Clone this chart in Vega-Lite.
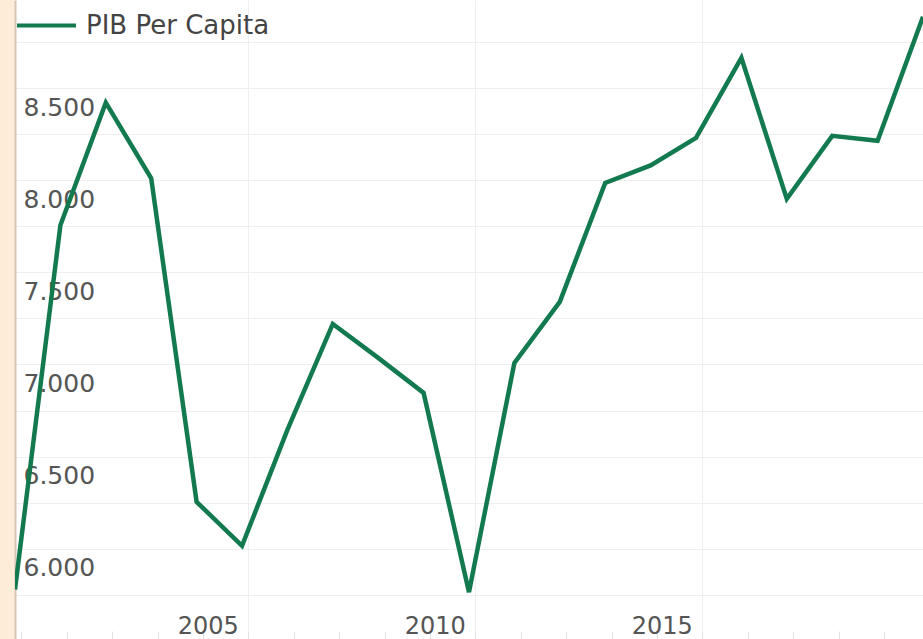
{
  "$schema": "https://vega.github.io/schema/vega-lite/v6.json",
  "width": 908,
  "height": 639,
  "autosize": {"type": "none"},
  "padding": {"left": 15, "top": 0, "right": 0, "bottom": 0},
  "background": "#fdecd8",
  "config": {
    "view": {"fill": "white", "stroke": null},
    "font": "DejaVu Sans"
  },
  "data": {
    "values": [
      {"year": 2000, "valor": 6030, "serie": "PIB Per Capita"},
      {"year": 2001, "valor": 8005, "serie": "PIB Per Capita"},
      {"year": 2002, "valor": 8670, "serie": "PIB Per Capita"},
      {"year": 2003, "valor": 8260, "serie": "PIB Per Capita"},
      {"year": 2004, "valor": 6505, "serie": "PIB Per Capita"},
      {"year": 2005, "valor": 6266, "serie": "PIB Per Capita"},
      {"year": 2006, "valor": 6895, "serie": "PIB Per Capita"},
      {"year": 2007, "valor": 7470, "serie": "PIB Per Capita"},
      {"year": 2008, "valor": 7286, "serie": "PIB Per Capita"},
      {"year": 2009, "valor": 7096, "serie": "PIB Per Capita"},
      {"year": 2010, "valor": 6015, "serie": "PIB Per Capita"},
      {"year": 2011, "valor": 7259, "serie": "PIB Per Capita"},
      {"year": 2012, "valor": 7590, "serie": "PIB Per Capita"},
      {"year": 2013, "valor": 8235, "serie": "PIB Per Capita"},
      {"year": 2014, "valor": 8330, "serie": "PIB Per Capita"},
      {"year": 2015, "valor": 8479, "serie": "PIB Per Capita"},
      {"year": 2016, "valor": 8913, "serie": "PIB Per Capita"},
      {"year": 2017, "valor": 8148, "serie": "PIB Per Capita"},
      {"year": 2018, "valor": 8490, "serie": "PIB Per Capita"},
      {"year": 2019, "valor": 8463, "serie": "PIB Per Capita"},
      {"year": 2020, "valor": 9136, "serie": "PIB Per Capita"}
    ]
  },
  "mark": {"type": "line", "strokeWidth": 4.5, "clip": true, "strokeJoin": "miter"},
  "encoding": {
    "x": {
      "field": "year",
      "type": "quantitative",
      "scale": {"domain": [2000, 2020], "nice": false, "zero": false},
      "axis": {
        "title": null,
        "domain": false,
        "values": [2000.14, 2001.14, 2002.14, 2003.14, 2004.14, 2005.14, 2006.14, 2007.14, 2008.14, 2009.14, 2010.14, 2011.14, 2012.14, 2013.14, 2014.14, 2015.14, 2016.14, 2017.14, 2018.14, 2019.14],
        "labelExpr": "(round(datum.value) % 5 == 0 && datum.value > 2001) ? '' + round(datum.value) : ''",
        "labelOverlap": false,
        "labelFlush": false,
        "labelBound": false,
        "labelAlign": "right",
        "labelOffset": -10,
        "labelBaseline": "middle",
        "labelPadding": -5,
        "labelFontSize": 24,
        "labelColor": "#555555",
        "labelFont": "DejaVu Sans",
        "ticks": true,
        "tickSize": -8,
        "tickColor": "#e2e2e2",
        "tickWidth": 1,
        "grid": true,
        "gridColor": "#efefef",
        "gridOpacity": {"condition": {"test": "round(datum.value) % 5 == 0 && datum.value > 2001", "value": 1}, "value": 0}
      }
    },
    "y": {
      "field": "valor",
      "type": "quantitative",
      "scale": {"domain": [5761, 9227], "nice": false, "zero": false},
      "axis": {
        "title": null,
        "values": [6000, 6250, 6500, 6750, 7000, 7250, 7500, 7750, 8000, 8250, 8500, 8750, 9000],
        "labelExpr": "(datum.value % 500 == 0 && datum.value <= 8500) ? replace(format(datum.value, ','), ',', '.') : ''",
        "labelOverlap": false,
        "labelFlush": false,
        "labelBound": false,
        "labelAlign": "left",
        "labelBaseline": "middle",
        "labelPadding": -8,
        "labelOffset": -27,
        "labelFontSize": 25,
        "labelColor": "#555555",
        "labelFont": "DejaVu Sans",
        "ticks": false,
        "domain": true,
        "domainColor": "#d6c6b6",
        "domainWidth": 2,
        "grid": true,
        "gridColor": "#efefef"
      }
    },
    "color": {
      "field": "serie",
      "type": "nominal",
      "scale": {"range": ["#127a4e"]},
      "legend": {
        "title": null,
        "orient": "none",
        "legendX": 0,
        "legendY": -6,
        "padding": 0,
        "symbolType": "stroke",
        "symbolSize": 3481,
        "symbolStrokeWidth": 4,
        "labelOffset": 8,
        "labelFontSize": 26,
        "labelColor": "#444444",
        "labelFont": "DejaVu Sans",
        "labelLimit": 400
      }
    }
  }
}
